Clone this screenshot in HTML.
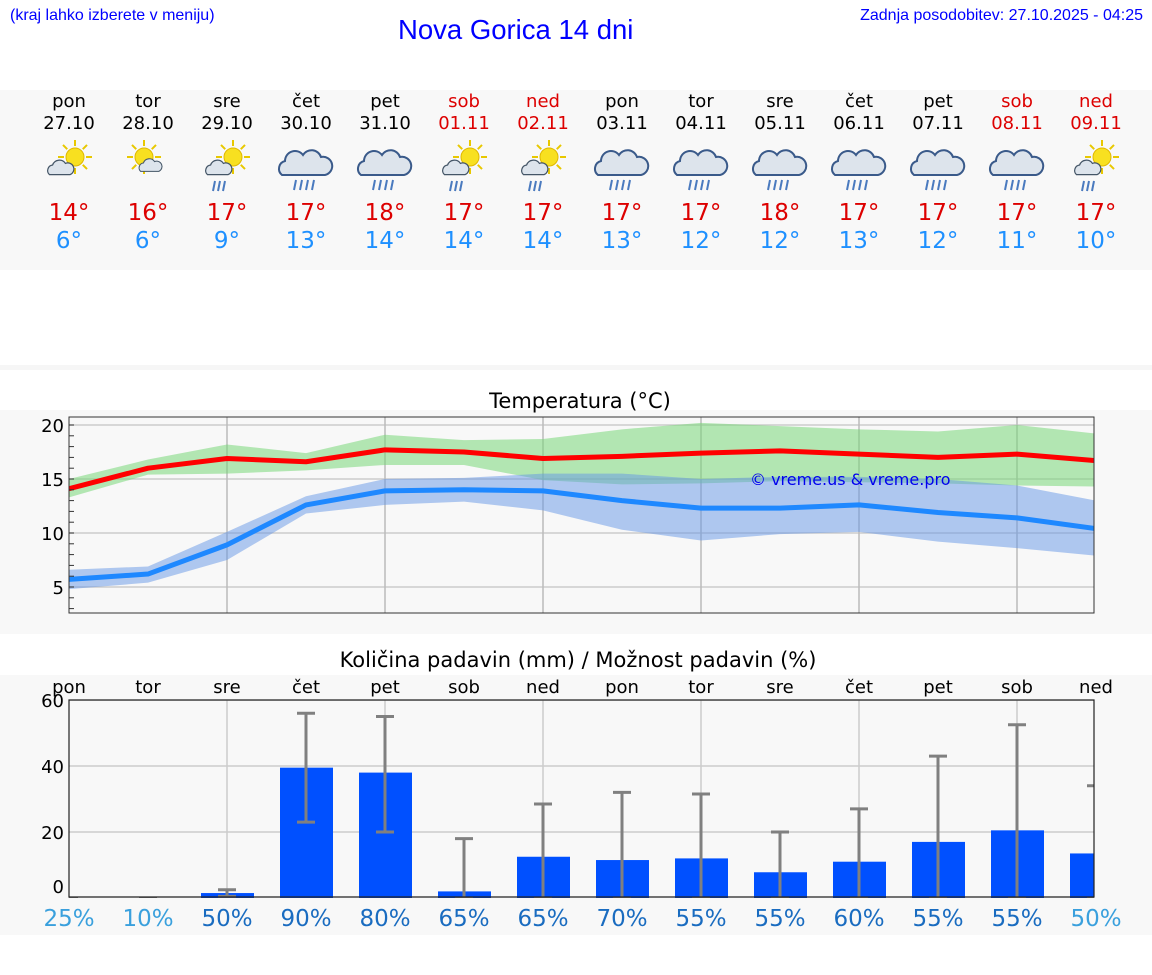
<!DOCTYPE html>
<html><head><meta charset="utf-8"><style>
body{margin:0;width:1152px;height:975px;background:#fff;font-family:"DejaVu Sans","Liberation Sans",sans-serif;position:relative;overflow:hidden}
.a{position:absolute}
</style></head><body>
<div class="a" style="left:10px;top:7px;font:16px 'Liberation Sans',sans-serif;color:#00f">(kraj lahko izberete v meniju)</div>
<div class="a" style="left:398px;top:14px;font:27.5px 'Liberation Sans',sans-serif;color:#00f">Nova Gorica 14 dni</div>
<div class="a" style="right:9px;top:7px;font:16px 'Liberation Sans',sans-serif;color:#00f">Zadnja posodobitev: 27.10.2025 - 04:25</div>
<div class="a" style="left:0;top:90px;width:1152px;height:180px;background:#f8f8f8"></div>
<div class="a" style="left:0;top:365px;width:1152px;height:5px;background:#f6f6f6"></div>
<div class="a" style="left:0;top:410px;width:1152px;height:224px;background:#f8f8f8"></div>
<div class="a" style="left:0;top:675px;width:1152px;height:260px;background:#f8f8f8"></div>
<svg class="a" style="left:0;top:0" width="1152" height="975" id="svg"></svg>
<script>
const days=["pon","tor","sre","čet","pet","sob","ned","pon","tor","sre","čet","pet","sob","ned"];
const dates=["27.10","28.10","29.10","30.10","31.10","01.11","02.11","03.11","04.11","05.11","06.11","07.11","08.11","09.11"];
const weekend=[0,0,0,0,0,1,1,0,0,0,0,0,1,1];
const icons=["sc","sc","scr","cr","cr","scr","scr","cr","cr","cr","cr","cr","cr","scr"];
const tmax=[14,16,17,17,18,17,17,17,17,18,17,17,17,17];
const tmin=[6,6,9,13,14,14,14,13,12,12,13,12,11,10];
const maxLine=[14.1,16,16.9,16.6,17.7,17.5,16.9,17.1,17.4,17.6,17.3,17.0,17.3,16.7];
const maxHi=[15.0,16.8,18.2,17.4,19.1,18.6,18.7,19.6,20.2,19.9,19.6,19.4,20.0,19.2];
const maxLo=[13.3,15.4,15.5,15.8,16.3,16.3,14.9,14.5,14.6,14.8,14.7,14.6,14.4,14.3];
const minLine=[5.7,6.2,8.9,12.6,13.9,14.0,13.9,13.0,12.3,12.3,12.6,11.9,11.4,10.4];
const minHi=[6.6,6.9,10.1,13.4,15.0,15.1,15.5,15.5,15.0,15.2,15.2,15.0,14.4,13.0];
const minLo=[4.8,5.4,7.5,11.8,12.6,12.9,12.1,10.3,9.3,9.9,10.1,9.2,8.6,7.9];
const tempTicks=[5,10,15,20];
const precip=[0,0,1.5,39.5,38,2,12.5,11.5,12,7.8,11,17,20.5,13.5];
const errLo=[0,0,0.5,23,20,0,0,0,0,0,0,0,0,0];
const errHi=[0,0,2.5,56,55,18,28.5,32,31.5,20,27,43,52.5,34];
const prob=[25,10,50,90,80,65,65,70,55,55,60,55,55,50];
const precipTicks=[0,20,40,60];

const S=document.getElementById('svg');const NS="http://www.w3.org/2000/svg";
function el(t,a,p){const e=document.createElementNS(NS,t);for(const k in a)e.setAttribute(k,a[k]);(p||S).appendChild(e);return e;}
const X=i=>69+i*79;
const TY=v=>425+(20-v)*10.8;
const PY=v=>898-3.3*v;
days.forEach((d,i)=>{
 const c=weekend[i]?'#d00':'#000';
 let t=el('text',{x:X(i),y:107,'text-anchor':'middle','font-size':18,fill:c});t.textContent=d;
 
 t=el('text',{x:X(i),y:129,'text-anchor':'middle','font-size':18,fill:c});t.textContent=dates[i];
 
 t=el('text',{x:X(i),y:220,'text-anchor':'middle','font-size':23,fill:'#d00'});t.textContent=tmax[i]+'°';
 
 t=el('text',{x:X(i),y:248,'text-anchor':'middle','font-size':23,fill:'#1e90ff'});t.textContent=tmin[i]+'°';
 
 const g=el('g',{transform:`translate(${X(i)},165)`});
 
 const ic=icons[i];
 if(ic!=='cr'){
  const sx=ic==='sc'&&i===1?-4:6,sy=-8;
  for(let k=0;k<8;k++){const a=k*Math.PI/4;el('line',{x1:sx+Math.cos(a)*11,y1:sy+Math.sin(a)*11,x2:sx+Math.cos(a)*17,y2:sy+Math.sin(a)*17,stroke:'#e8c800','stroke-width':2},g);}
  el('circle',{cx:sx,cy:sy,r:9,fill:'#f8e020',stroke:'#e0b800'},g);
  const cs=i===1?0.7:0.8;
  el('path',{d:'M-22,12 a7,7 0 0 1 4,-12 a9,9 0 0 1 16,-2 a7,7 0 0 1 6,14 z',fill:'#dde4ec',stroke:'#456',"stroke-width":1.5,transform:`translate(${i===1?8:-2},${i===1?-2:0}) scale(${cs})`},g);
  if(ic==='scr')for(let k=0;k<3;k++)el('line',{x1:-12+k*5,y1:16,x2:-14+k*5,y2:26,stroke:'#4a7abf','stroke-width':2},g);
 } else {
  el('path',{d:'M-24,10 a8,8 0 0 1 3,-14 a10,10 0 0 1 18,-6 a10,10 0 0 1 18,2 a8,8 0 0 1 4,18 z',fill:'#dde4ec',stroke:'#3a5a8a','stroke-width':2},g);
  for(let k=0;k<4;k++)el('line',{x1:-10+k*6,y1:15,x2:-12+k*6,y2:25,stroke:'#4a7abf','stroke-width':2},g);
 }
});
let t=el('text',{x:580,y:408,'text-anchor':'middle','font-size':21});t.textContent='Temperatura (°C)';

el('rect',{x:69,y:417,width:1025,height:196,fill:'#f8f8f8'});
const tg=el('g',{'clip-path':'url(#tc)'});
const cp=el('clipPath',{id:'tc'});el('rect',{x:69,y:417,width:1025,height:196},cp);
tempTicks.forEach(v=>{el('line',{x1:69,x2:1094,y1:TY(v),y2:TY(v),stroke:'#ccc','stroke-width':1.5},tg);
 const l=el('text',{x:64,y:TY(v)+7,'text-anchor':'end','font-size':18});l.textContent=v;
 });
for(let v=3;v<=20;v++)el('line',{x1:69,x2:74,y1:TY(v),y2:TY(v),stroke:'#333'});
[2,4,6,8,10,12].forEach(i=>el('line',{x1:X(i),x2:X(i),y1:417,y2:613,stroke:'#bbb','stroke-width':1.5},tg));
function band(hi,lo,fill,name){let d='M'+hi.map((v,i)=>X(i)+','+TY(v)).join('L')+'L'+lo.map((v,i)=>X(i)+','+TY(v)).reverse().join('L')+'Z';
 const p=el('path',{d,fill},tg);}
function line(a,c,name){const p=el('polyline',{points:a.map((v,i)=>X(i)+','+TY(v)).join(' '),fill:'none',stroke:c,'stroke-width':5,'stroke-linejoin':'round'},tg);
 }
band(maxHi,maxLo,'rgba(120,215,120,0.55)','max-temp-band');
band(minHi,minLo,'rgba(100,150,230,0.5)','min-temp-band');
line(maxLine,'#ff0000','max-temp-line');
line(minLine,'#1e88ff','min-temp-line');
el('rect',{x:69,y:417,width:1025,height:196,fill:'none',stroke:'#333'});
t=el('text',{x:750,y:485,'font-size':16,fill:'#0000ee'});t.textContent='© vreme.us & vreme.pro';

t=el('text',{x:578,y:667,'text-anchor':'middle','font-size':21});t.textContent='Količina padavin (mm) / Možnost padavin (%)';

el('rect',{x:69,y:700,width:1025,height:197,fill:'#f8f8f8'});
const pg=el('g',{'clip-path':'url(#pc)'});
const cp2=el('clipPath',{id:'pc'});el('rect',{x:69,y:700,width:1025,height:198},cp2);
precipTicks.forEach(v=>{if(v>0)el('line',{x1:69,x2:1094,y1:PY(v),y2:PY(v),stroke:'#ccc','stroke-width':1.5},pg);
 const l=el('text',{x:64,y:PY(v)+(v===0?-5:7),'text-anchor':'end','font-size':18});l.textContent=v;
 });
[2,4,6,8,10,12].forEach(i=>el('line',{x1:X(i),x2:X(i),y1:700,y2:897,stroke:'#ccc','stroke-width':1.5},pg));
precip.forEach((v,i)=>{
 const b=el('rect',{x:X(i)-26,y:PY(v),width:53,height:PY(0)-PY(v),fill:'#0050ff'},pg);
 
 const e=el('g',{stroke:'#808080','stroke-width':3},pg);
 
 el('line',{x1:X(i),x2:X(i),y1:PY(errLo[i]),y2:PY(errHi[i])},e);
 el('line',{x1:X(i)-9,x2:X(i)+9,y1:PY(errHi[i]),y2:PY(errHi[i])},e);
 el('line',{x1:X(i)-9,x2:X(i)+9,y1:PY(errLo[i]),y2:PY(errLo[i])},e);
 let l=el('text',{x:X(i),y:693,'text-anchor':'middle','font-size':18});l.textContent=days[i];
 
 l=el('text',{x:X(i),y:926,'text-anchor':'middle','font-size':23,fill:(prob[i]<50||i===13)?'#3aa0dd':'#1a6cc0'});l.textContent=prob[i]+'%';
 
});
el('path',{d:'M69,700H1094V897H69Z',fill:'none',stroke:'#222','stroke-width':1.2});
</script>
</body></html>
